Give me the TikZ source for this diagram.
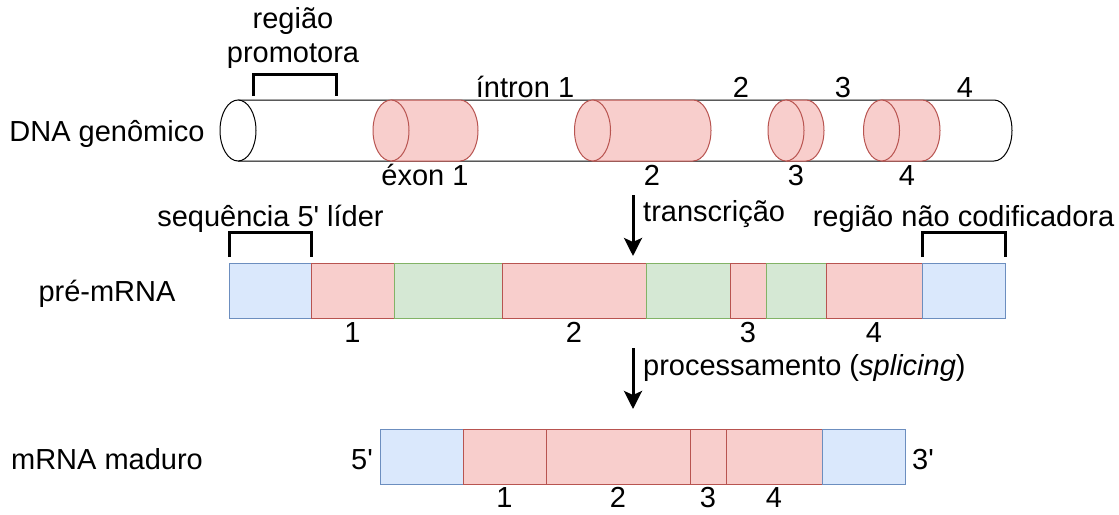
\documentclass[tikz,border=0pt]{standalone}
\usepackage{fontspec}
\setmainfont{Liberation Sans}
\usetikzlibrary{arrows.meta}
\definecolor{exonfill}{HTML}{F8CECC}
\definecolor{exonline}{HTML}{B85450}
\definecolor{intronfill}{HTML}{D5E8D4}
\definecolor{intronline}{HTML}{82B366}
\definecolor{utrfill}{HTML}{DAE8FC}
\definecolor{utrline}{HTML}{6C8EBF}

% one exon band on the DNA tube: left cap centre, right cap centre
\newcommand\exonband[2]{%
  \filldraw[thinline, fill=exonfill, draw=exonline]
    (#1,100) -- (#2,100) arc[start angle=-90, end angle=90, x radius=18, y radius=30.5] -- (#1,161);
  \filldraw[thinline, fill=exonfill, draw=exonline]
    (#1,130.5) ellipse[x radius=18, y radius=30.5];
}

\begin{document}
\begin{tikzpicture}[x=1pt, y=-1pt,
  thinline/.style={line width=1pt},
  txt/.style={font=\fontsize{29}{34.5}\selectfont, inner sep=0pt, anchor=base},
  seg/.style={draw, line width=1pt, inner sep=0pt, outer sep=0pt,
              minimum height=55pt, anchor=west},
  utr/.style={seg, fill=utrfill, draw=utrline},
  exonseg/.style={seg, fill=exonfill, draw=exonline},
  intronseg/.style={seg, fill=intronfill, draw=intronline},
  bracket/.style={line width=3pt},
  flow/.style={line width=3pt, -{Stealth[length=18pt, width=18pt, inset=4pt]}},
]
\useasboundingbox (0,0) rectangle (1119,514);

% ---------- genomic DNA tube ----------
\filldraw[thinline, fill=white]
  (238,100) -- (994,100) arc[start angle=-90, end angle=90, x radius=18, y radius=30.5] -- (238,161);
\filldraw[thinline, fill=white] (238,130.5) ellipse[x radius=18, y radius=30.5];
\exonband{391}{460}
\exonband{592.5}{693}
\exonband{786}{806}
\exonband{881.5}{922}

\node[txt] (dnaLabel) at (107,141) {DNA genômico};
\node[txt, align=center, anchor=center] (promoter) at (293,38) {região\\promotora};
\draw[bracket] (253,96) -- (253,74) -- (336,74) -- (336,96);

\node[txt] (intron1) at (525,97) {íntron 1};
\node[txt] (intron2) at (741,97) {2};
\node[txt] (intron3) at (843,97) {3};
\node[txt] (intron4) at (965,97) {4};
\node[txt] (exon1) at (425,185) {éxon 1};
\node[txt] (exon2) at (652,185) {2};
\node[txt] (exon3) at (796,185) {3};
\node[txt] (exon4) at (907,185) {4};

% ---------- transcription ----------
\coordinate (trTop) at (633,195);
\coordinate (trTip) at (633,256);
\draw[flow] (trTop) -- (trTip);
\node[txt, anchor=base west] (trLabel) at (643,221) {transcrição};

% ---------- pre-mRNA ----------
\node[txt] (preLabel) at (107,301) {pré-mRNA};
\node[utr, minimum width=82pt, anchor=north west] (p0) at (229,263) {};
\node[exonseg, minimum width=83pt] (p1) at (p0.east) {};
\node[intronseg, minimum width=108pt] (q1) at (p1.east) {};
\node[exonseg, minimum width=144pt] (p2) at (q1.east) {};
\node[intronseg, minimum width=84pt] (q2) at (p2.east) {};
\node[exonseg, minimum width=36pt] (p3) at (q2.east) {};
\node[intronseg, minimum width=60pt] (q3) at (p3.east) {};
\node[exonseg, minimum width=96pt] (p4) at (q3.east) {};
\node[utr, minimum width=83pt] (p5) at (p4.east) {};

\path (p1.south) ++(0,24) node[txt] (pn1) {1};
\path (p2.south) ++(0,24) node[txt] (pn2) {2};
\path (p3.south) ++(0,24) node[txt] (pn3) {3};
\path (p4.south) ++(0,24) node[txt] (pn4) {4};

\node[txt] (leader) at (270.5,226) {sequência 5\textquotesingle{} líder};
\draw[bracket] (p0.north west) ++(0,-6) -- ++(0,-25) -| ([yshift=6pt]p0.north east);
\node[txt] (noncoding) at (963.5,226) {região não codificadora};
\draw[bracket] (p5.north west) ++(0,-6) -- ++(0,-25) -| ([yshift=6pt]p5.north east);

% ---------- splicing ----------
\coordinate (spTop) at (633,348);
\coordinate (spTip) at (633,409);
\draw[flow] (spTop) -- (spTip);
\node[txt, anchor=base west] (spLabel) at (643,375) {processamento (\textit{splicing})};

% ---------- mature mRNA ----------
\node[txt] (matLabel) at (107,469) {mRNA maduro};
\node[utr, minimum width=83pt, anchor=north west] (m0) at (380,429) {};
\node[exonseg, minimum width=83pt] (m1) at (m0.east) {};
\node[exonseg, minimum width=144pt] (m2) at (m1.east) {};
\node[exonseg, minimum width=36pt] (m3) at (m2.east) {};
\node[exonseg, minimum width=96pt] (m4) at (m3.east) {};
\node[utr, minimum width=83pt] (m5) at (m4.east) {};

\node[txt, anchor=base east] (five) at ([xshift=-7pt]m0.west |- 0,469) {5\textquotesingle};
\node[txt, anchor=base west] (three) at ([xshift=7pt]m5.east |- 0,469) {3\textquotesingle};

\path (m1.south) ++(0,23) node[txt] (mn1) {1};
\path (m2.south) ++(0,23) node[txt] (mn2) {2};
\path (m3.south) ++(0,23) node[txt] (mn3) {3};
\path (m4.south) ++(0,23) node[txt] (mn4) {4};
\end{tikzpicture}
\end{document}
